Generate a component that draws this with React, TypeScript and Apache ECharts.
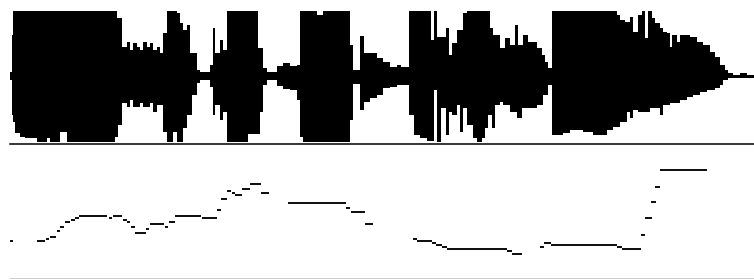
import React, { useEffect, useRef } from "react";
import * as echarts from "echarts";

// Waveform envelope (column start position, upper / lower amplitude)
const waveX = [
  10, 12, 13, 15, 20, 25, 37, 47, 50, 60,
  67, 115, 117, 118, 122, 127, 130, 133, 137, 140,
  143, 147, 150, 153, 157, 160, 163, 167, 173, 177,
  180, 183, 187, 190, 192, 197, 200, 210, 213, 215,
  220, 223, 227, 248, 258, 260, 263, 267, 277, 283,
  290, 297, 300, 303, 317, 323, 350, 353, 360, 364,
  370, 377, 383, 390, 397, 401, 409, 414, 420, 427,
  431, 434, 437, 441, 446, 449, 452, 457, 460, 463,
  467, 473, 477, 482, 485, 488, 490, 492, 493, 495,
  500, 503, 505, 510, 515, 517, 518, 522, 523, 528,
  537, 542, 543, 545, 548, 552, 555, 563, 570, 583,
  593, 600, 607, 613, 617, 620, 625, 627, 630, 633,
  638, 642, 645, 648, 650, 652, 655, 660, 663, 667,
  670, 672, 677, 680, 687, 690, 693, 697, 700, 703,
  707, 710, 715, 720, 723, 725, 728, 733, 740, 747,
  754,
];
const waveUpper = [
  4, 41, 65, 65, 65, 65, 65, 65, 65, 65,
  65, 65, 58, 58, 29, 34, 26, 33, 29, 26,
  34, 29, 33, 26, 29, 23, 43, 65, 65, 63,
  53, 46, 51, 23, 23, 6, 4, 11, 48, 23,
  36, 26, 65, 65, 28, 28, 8, 4, 10, 13,
  10, 11, 65, 65, 61, 65, 31, 6, 40, 23,
  23, 18, 14, 9, 11, 9, 65, 65, 65, 65,
  36, 65, 39, 39, 48, 21, 33, 46, 46, 63,
  65, 65, 65, 65, 65, 65, 48, 48, 41, 41,
  28, 28, 38, 31, 51, 51, 31, 31, 41, 34,
  28, 21, 21, 14, 8, 65, 65, 65, 65, 65,
  65, 65, 65, 65, 61, 56, 54, 54, 59, 44,
  61, 65, 38, 65, 65, 58, 53, 48, 44, 43,
  29, 41, 34, 41, 41, 39, 39, 34, 34, 31,
  31, 24, 19, 11, 11, 6, 3, 1, 3, 1,
  1,
];
const waveLower = [
  -4, -39, -46, -57, -61, -62, -66, -62, -66, -56,
  -66, -61, -61, -49, -27, -31, -24, -31, -31, -27,
  -31, -31, -27, -36, -29, -29, -56, -66, -56, -66,
  -66, -52, -39, -39, -19, -7, -4, -11, -39, -29,
  -44, -36, -66, -58, -58, -36, -9, -4, -10, -13,
  -14, -24, -61, -66, -66, -66, -44, -8, -34, -26,
  -22, -19, -12, -11, -9, -9, -39, -59, -62, -65,
  -65, -14, -66, -32, -59, -36, -39, -29, -56, -32,
  -49, -62, -66, -62, -52, -39, -39, -52, -52, -29,
  -26, -29, -29, -36, -36, -42, -42, -32, -32, -32,
  -29, -29, -19, -19, -9, -59, -59, -57, -54, -56,
  -59, -59, -54, -51, -51, -46, -46, -36, -42, -34,
  -36, -36, -36, -36, -32, -32, -32, -39, -29, -29,
  -27, -27, -27, -24, -21, -21, -19, -19, -16, -16,
  -14, -14, -12, -9, -4, -4, -2, -2, -2, -2,
  -2,
];

// Pitch contour segments
const pitchStart = [
  10, 37, 46, 50, 57, 60, 65, 71, 75, 79,
  109, 113, 123, 127, 131, 135, 146, 150, 165, 169,
  175, 202, 217, 221, 227, 232, 235, 242, 250, 261,
  288, 346, 351, 365, 413, 417, 432, 436, 442, 447,
  507, 512, 540, 544, 551, 617, 622, 641, 645, 651,
  655, 660,
];
const pitchEnd = [
  13, 45, 49, 56, 60, 64, 70, 75, 79, 107,
  112, 122, 127, 130, 135, 146, 149, 164, 168, 175,
  201, 217, 221, 227, 231, 235, 242, 250, 261, 269,
  346, 350, 365, 373, 417, 432, 436, 442, 447, 507,
  512, 522, 544, 551, 617, 622, 641, 645, 652, 656,
  660, 707,
];
const pitchValue = [
  37, 37, 39, 41, 47, 51, 56, 58, 60, 62,
  60, 62, 58, 56, 51, 45, 49, 54, 51, 56,
  62, 60, 68, 79, 87, 85, 83, 89, 94, 85,
  75, 70, 66, 54, 39, 37, 35, 33, 31, 29,
  27, 24, 31, 35, 33, 31, 29, 43, 60, 76,
  91, 108,
];

export default function App() {
  const ref = useRef<HTMLDivElement>(null);
  useEffect(() => {
    if (!ref.current) return;
    const chart = echarts.init(ref.current, null, { renderer: "svg" });
    const hiddenAxisBits = {
      axisTick: { show: false },
      axisLabel: { show: false },
      splitLine: { show: false },
    };
    chart.setOption({
      animation: false,
      backgroundColor: "#ffffff",
      grid: [
        { left: 10, right: 0, top: 11, height: 133 },
        { left: 10, right: 0, top: 146, height: 132 },
      ],
      xAxis: [
        {
          type: "value",
          gridIndex: 0,
          min: 10,
          max: 754,
          axisLine: { show: true, onZero: false, lineStyle: { color: "#3a3a3a", width: 2 } },
          ...hiddenAxisBits,
        },
        {
          type: "value",
          gridIndex: 1,
          min: 10,
          max: 754,
          axisLine: { show: true, onZero: false, lineStyle: { color: "#cccccc", width: 1 } },
          ...hiddenAxisBits,
        },
      ],
      yAxis: [
        { type: "value", gridIndex: 0, min: -68, max: 65, show: false },
        { type: "value", gridIndex: 1, min: 0, max: 132, show: false },
      ],
      series: [
        {
          type: "line",
          xAxisIndex: 0,
          yAxisIndex: 0,
          data: waveX.map((x, i) => [x, waveUpper[i]]),
          step: "end",
          symbol: "none",
          silent: true,
          lineStyle: { width: 0, color: "#000" },
          areaStyle: { color: "#000000", opacity: 1, origin: 0 },
        },
        {
          type: "line",
          xAxisIndex: 0,
          yAxisIndex: 0,
          data: waveX.map((x, i) => [x, waveLower[i]]),
          step: "end",
          symbol: "none",
          silent: true,
          lineStyle: { width: 0, color: "#000" },
          areaStyle: { color: "#000000", opacity: 1, origin: 0 },
        },
        {
          type: "custom",
          xAxisIndex: 1,
          yAxisIndex: 1,
          silent: true,
          encode: { x: [0, 1], y: 2 },
          data: pitchStart.map((s, i) => [s, pitchEnd[i], pitchValue[i]]),
          renderItem: (params: any, api: any) => {
            const p0 = api.coord([api.value(0), api.value(2)]);
            const p1 = api.coord([api.value(1), api.value(2)]);
            return {
              type: "line",
              shape: { x1: p0[0], y1: p0[1], x2: p1[0], y2: p1[1] },
              style: { stroke: "#111111", lineWidth: 2 },
            };
          },
        },
      ],
    });
    return () => chart.dispose();
  }, []);
  return (
    <div
      ref={ref}
      style={{ position: "absolute", left: 0, top: 0, width: 754, height: 280 }}
    />
  );
}
